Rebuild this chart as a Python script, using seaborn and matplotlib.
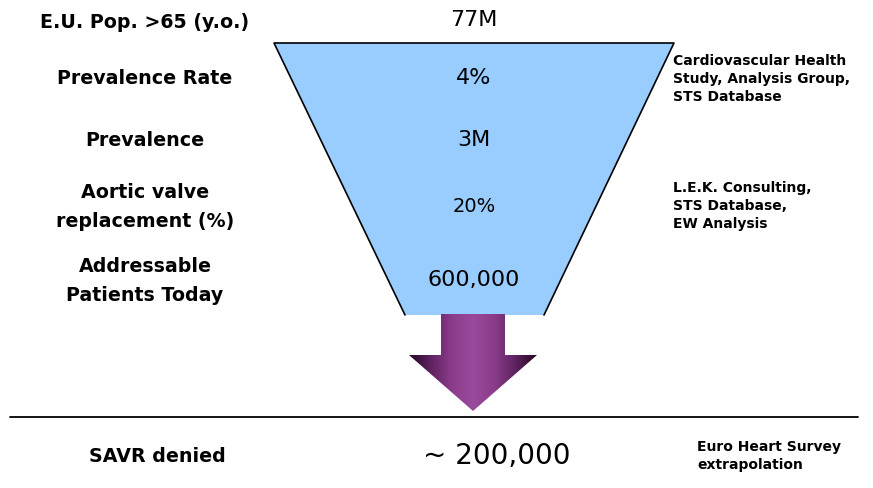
import numpy as np
import matplotlib.pyplot as plt
from matplotlib.patches import Polygon
from matplotlib.colors import LinearSegmentedColormap
import seaborn as sns

# data
stage_labels = ["E.U. Pop. >65 (y.o.)", "Prevalence Rate", "Prevalence",
                "Aortic valve\nreplacement (%)", "Addressable\nPatients Today"]
stage_values = ["77M", "4%", "3M", "20%", "600,000"]
sources = ["Cardiovascular Health\nStudy, Analysis Group,\nSTS Database",
           "L.E.K. Consulting,\nSTS Database,\nEW Analysis"]
result_label = "SAVR denied"
result_value = "~ 200,000"
result_source = "Euro Heart Survey\nextrapolation"

# layout (pixels of an 873x488 canvas)
label_y = [23, 79, 140, 207, 281]
value_y = [20, 78, 140, 207, 280]
value_size = [16, 16, 16, 14, 16]
source_y = [79, 206]

sns.set_theme(style="white")
plt.rcParams['font.family'] = ['DejaVu Sans']
plt.rcParams['text.color'] = 'black'

fig = plt.figure(figsize=(8.73, 4.88), dpi=100)
ax = fig.add_axes([0, 0, 1, 1])
ax.set_xlim(0, 873)
ax.set_ylim(488, 0)
ax.axis("off")

# funnel
funnel = [(274, 43), (674, 43), (544, 315), (405, 315)]
ax.add_patch(Polygon(funnel, closed=True, facecolor="#99CCFF", edgecolor="none", zorder=1))
ax.plot([405, 274, 674, 544], [315, 43, 43, 315], color="black", lw=1.2, zorder=2)

# arrow with purple gradient
arrow = [(441, 314), (505, 314), (505, 355), (537, 355), (473, 411),
         (409, 355), (441, 355)]
arrow_patch = Polygon(arrow, closed=True, facecolor="none", edgecolor="none", zorder=3)
ax.add_patch(arrow_patch)
cmap = LinearSegmentedColormap.from_list(
    "purp", ["#240624", "#5E225F", "#8A3C8B", "#9A4A9B", "#8A3C8B", "#5E225F", "#240624"])
grad = np.linspace(0, 1, 256).reshape(1, -1)
im = ax.imshow(grad, cmap=cmap, extent=[409, 537, 411, 314], aspect="auto", zorder=3)
im.set_clip_path(arrow_patch)
ax.set_xlim(0, 873)
ax.set_ylim(488, 0)

# separator line
ax.plot([10, 858], [417, 417], color="black", lw=1.3, zorder=2)

# labels and values
for lab, y in zip(stage_labels, label_y):
    ax.text(145, y, lab, ha="center", va="center", fontsize=13.7,
            fontweight="bold", linespacing=1.65)
for val, y, s in zip(stage_values, value_y, value_size):
    ax.text(474, y, val, ha="center", va="center", fontsize=s, zorder=4)
for src, y in zip(sources, source_y):
    ax.text(673, y, src, ha="left", va="center", fontsize=10,
            fontweight="bold", linespacing=1.4)

ax.text(157, 457, result_label, ha="center", va="center", fontsize=13.7, fontweight="bold")
ax.text(497, 456, result_value, ha="center", va="center", fontsize=20)
ax.text(697, 456, result_source, ha="left", va="center", fontsize=10,
        fontweight="bold", linespacing=1.4)

fig.savefig("out.png", dpi=100)
